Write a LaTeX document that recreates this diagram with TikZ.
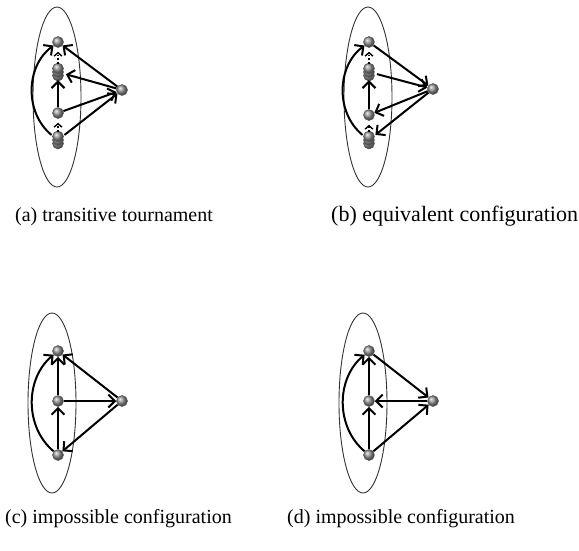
\documentclass[tikz,border=0pt]{standalone}
\usepackage{fontspec}
\setmainfont{Liberation Serif}
\newfontfamily\capfont{Liberation Serif}
\usetikzlibrary{arrows.meta,shadings}
\tikzset{
  x=1pt,y=1pt,
  vtx/.style={circle, inner sep=0pt, minimum size=11pt, draw=black!65, line width=0.5pt, shading=ball, ball color=gray!85},
  stk/.style={circle, inner sep=0pt, minimum size=16pt},
  edge/.style={line width=2pt, -{Straight Barb[length=6.5pt,width=13pt,line width=2pt]}},
  dotarrow/.style={line width=1.7pt, dotted, shorten >=4pt, -{Straight Barb[length=3.5pt,width=8pt,line width=1.4pt]}},
  oval/.style={draw=black!80, line width=0.9pt},
  captext/.style={font=\capfont\fontsize{20}{24}\selectfont, inner sep=0pt, anchor=base west},
}
\newcommand\stacknode[3]{%
  \node[vtx] (#1c) at (#2,#3-3.5) {};
  \node[vtx] (#1b) at (#2,#3) {};
  \node[vtx] (#1a) at (#2,#3+3.5) {};
  \node[stk] (#1) at (#2,#3) {};
}
\begin{document}
\begin{tikzpicture}
\useasboundingbox (0,0) rectangle (579,-550);

% ---------- (a) ----------
\draw[oval] (57,-97) ellipse [x radius=24, y radius=90];
\node[vtx] (aT) at (58,-42) {};
\stacknode{aS}{58}{-72}
\node[vtx] (aM) at (58,-113) {};
\stacknode{aU}{58}{-140}
\node[vtx] (aR) at (122,-90) {};
\draw[edge] (aU) to[bend left=52] (aT);
\draw[dotarrow] (aS) -- (aT);
\draw[edge] (aM) -- (aS);
\draw[dotarrow] (aU) -- (aM);
\draw[edge] (aR) -- (aT);
\draw[edge] (aR) -- (aS);
\draw[edge] (aM) -- (aR);
\draw[edge] (aU) -- (aR);
\node[captext] (capa) at (15,-221) {(a) transitive tournament};

% ---------- (b) ----------
\draw[oval] (368,-97) ellipse [x radius=24, y radius=90];
\node[vtx] (bT) at (369,-42) {};
\stacknode{bS}{369}{-72}
\node[vtx] (bM) at (369,-115) {};
\stacknode{bU}{369}{-140}
\node[vtx] (bR) at (433,-89) {};
\draw[edge] (bU) to[bend left=52] (bT);
\draw[dotarrow] (bS) -- (bT);
\draw[edge] (bM) -- (bS);
\draw[dotarrow] (bU) -- (bM);
\draw[edge] (bT) -- (bR);
\draw[edge] (bS) -- (bR);
\draw[edge] (bR) -- (bM);
\draw[edge] (bR) -- (bU);
\node[captext, font=\capfont\fontsize{22}{26}\selectfont] (capb) at (331,-221) {(b) equivalent configuration};

% ---------- (c) ----------
\draw[oval] (52,-403) ellipse [x radius=24, y radius=90];
\node[vtx] (cT) at (58,-351) {};
\node[vtx] (cM) at (58,-401) {};
\node[vtx] (cB) at (58,-455) {};
\node[vtx] (cR) at (122,-401) {};
\draw[edge] (cB) to[bend left=50] (cT);
\draw[edge] (cM) -- (cT);
\draw[edge] (cB) -- (cM);
\draw[edge] (cR) -- (cT);
\draw[edge] (cM) -- (cR);
\draw[edge] (cR) -- (cB);
\node[captext] (capc) at (5,-523) {(c) impossible configuration};

% ---------- (d) ----------
\draw[oval] (363,-403) ellipse [x radius=24, y radius=90];
\node[vtx] (dT) at (369,-351) {};
\node[vtx] (dM) at (369,-401) {};
\node[vtx] (dB) at (369,-455) {};
\node[vtx] (dR) at (433,-401) {};
\draw[edge] (dB) to[bend left=50] (dT);
\draw[edge] (dM) -- (dT);
\draw[edge] (dB) -- (dM);
\draw[edge] (dT) -- (dR);
\draw[edge] (dR) -- (dM);
\draw[edge] (dB) -- (dR);
\node[captext] (capd) at (287,-523) {(d) impossible configuration};
\end{tikzpicture}
\end{document}
